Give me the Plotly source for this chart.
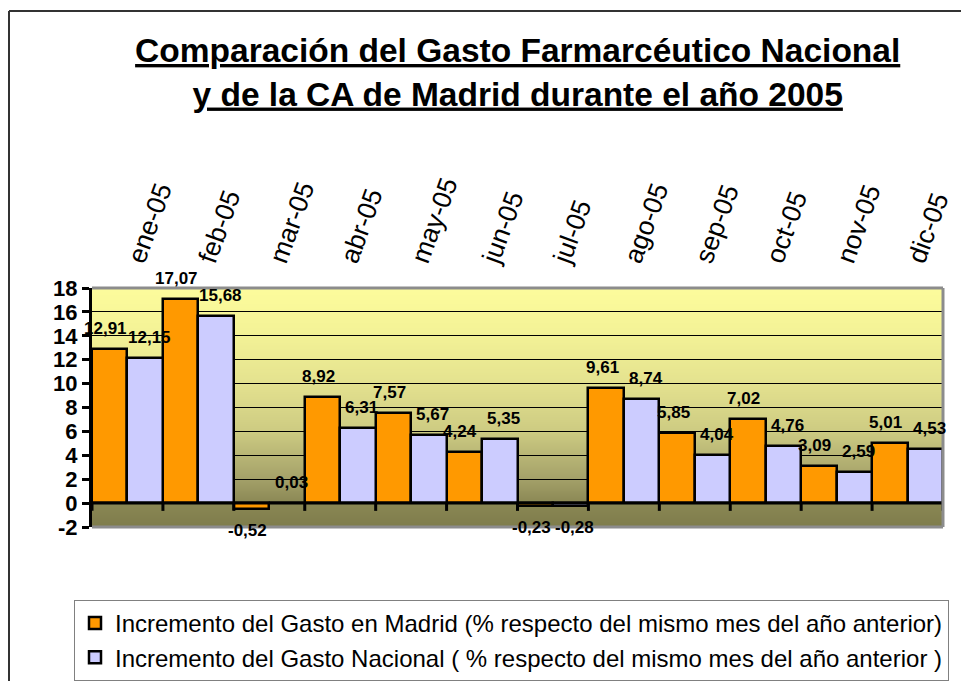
import base64, struct, zlib
import plotly.graph_objects as go

months = ["ene-05", "feb-05", "mar-05", "abr-05", "may-05", "jun-05",
          "jul-05", "ago-05", "sep-05", "oct-05", "nov-05", "dic-05"]
madrid = [12.91, 17.07, -0.52, 8.92, 7.57, 4.24, -0.23, 9.61, 5.85, 7.02, 3.09, 5.01]
nacional = [12.15, 15.68, 0.03, 6.31, 5.67, 5.35, -0.28, 8.74, 4.04, 4.76, 2.59, 4.53]
y_ticks = [-2, 0, 2, 4, 6, 8, 10, 12, 14, 16, 18]

name_madrid = "Incremento del Gasto en Madrid (% respecto del mismo mes del año anterior)"
name_nacional = "Incremento del Gasto Nacional ( % respecto del mismo mes del año anterior )"
title_text = "Comparación del Gasto Farmarcéutico Nacional<br>y de la CA de Madrid durante el año 2005"

FONT = "Arial, Liberation Sans, sans-serif"
YMIN, YMAX = y_ticks[0], y_ticks[-1]

# ---- background gradient as a tiny PNG (1 x H) ----
stops = [(-2, (126, 124, 75)), (0, (138, 135, 84)), (2, (164, 161, 105)),
         (6, (205, 203, 130)), (10, (228, 226, 143)), (14, (243, 242, 150)),
         (18, (253, 252, 156))]

def color_at(v):
    for (a, ca), (b, cb) in zip(stops[:-1], stops[1:]):
        if a <= v <= b:
            t = (v - a) / (b - a)
            return tuple(int(round(ca[k] + (cb[k] - ca[k]) * t)) for k in range(3))
    return stops[-1][1] if v > stops[-1][0] else stops[0][1]

H = 240
rows = b"".join(b"\x00" + bytes(color_at(YMAX - (i + 0.5) * (YMAX - YMIN) / H)) for i in range(H))

def chunk(tag, data):
    c = struct.pack(">I", len(data)) + tag + data
    return c + struct.pack(">I", zlib.crc32(tag + data) & 0xffffffff)

png = (b"\x89PNG\r\n\x1a\n" + chunk(b"IHDR", struct.pack(">IIBBBBB", 1, H, 8, 2, 0, 0, 0))
       + chunk(b"IDAT", zlib.compress(rows)) + chunk(b"IEND", b""))
bg_uri = "data:image/png;base64," + base64.b64encode(png).decode()

def fmt(v):
    return f"{v:.2f}".replace(".", ",")

x_idx = list(range(len(months)))

fig = go.Figure()
fig.add_trace(go.Bar(
    x=x_idx, y=madrid, name=name_madrid,
    marker=dict(color="#FF9900", line=dict(color="black", width=2.5)),
))
fig.add_trace(go.Bar(
    x=x_idx, y=nacional, name=name_nacional,
    marker=dict(color="#CCCCFF", line=dict(color="black", width=2.5)),
))

# data labels (bars of a pair sit at -0.25 / +0.25 of the category centre)
annotations = []
for series, off, xs in ((madrid, -0.25, -4), (nacional, 0.25, 4)):
    for i, v in enumerate(series):
        annotations.append(dict(
            x=i + off, y=v, xref="x", yref="y", text=fmt(v), showarrow=False,
            xanchor="center", yanchor="bottom" if v >= 0 else "top",
            xshift=xs, yshift=9 if v >= 0 else -10,
            font=dict(family=FONT, size=17, color="black", weight="bold")))

OFF = 8  # page body margin in the screenshot
L, R, T, B = 84, 34, 280, 162
W, HH = 969, 681
pw, ph = W - L - R, HH - T - B

def px_x(p):
    return (p - OFF - L) / pw

def px_y(p):
    return (HH - B - (p - OFF)) / ph

shapes = []
# zero line
shapes.append(dict(type="line", xref="paper", yref="y", x0=0, x1=1, y0=0, y1=0,
                   line=dict(color="black", width=3), layer="above"))
# category boundary ticks along the zero line
for i in range(len(months) + 1):
    shapes.append(dict(type="line", xref="x", yref="y", x0=i - 0.5, x1=i - 0.5, y0=0, y1=-0.65,
                       line=dict(color="black", width=3), layer="above"))
# plot-area border (top, right, bottom)
for (x0, y0, x1, y1) in [(0, 1, 1, 1), (1, 0, 1, 1), (0, 0, 1, 0)]:
    shapes.append(dict(type="line", xref="paper", yref="paper", x0=x0, y0=y0, x1=x1, y1=y1,
                       line=dict(color="#8C8C8C", width=3), layer="above"))
# outer chart border (left and top edges; right/bottom run off the picture)
shapes.append(dict(type="line", xref="paper", yref="paper",
                   x0=px_x(9), x1=px_x(9), y0=px_y(720), y1=px_y(11),
                   line=dict(color="#333333", width=2), layer="above"))
shapes.append(dict(type="line", xref="paper", yref="paper",
                   x0=px_x(9), x1=px_x(1000), y0=px_y(11), y1=px_y(11),
                   line=dict(color="#333333", width=2), layer="above"))

fig.update_layout(
    width=W, height=HH,
    margin=dict(l=L, r=R, t=T, b=B, autoexpand=False),
    paper_bgcolor="white", plot_bgcolor="rgba(0,0,0,0)",
    barmode="group", bargap=0, bargroupgap=0,
    font=dict(family=FONT, color="black"),
    title=dict(text=title_text, xref="container", yref="container",
               x=0.526, xanchor="center", y=1 - 54 / HH, yanchor="top", automargin=False,
               font=dict(family=FONT, size=33.5, color="black", weight="bold", lineposition="under")),
    xaxis=dict(range=[-0.5, len(months) - 0.5], tickvals=[i + 0.06 for i in x_idx], ticktext=months,
               side="top", tickangle=-70, ticks="", showgrid=False, showline=False,
               zeroline=False, ticklabelstandoff=8, automargin=False,
               tickfont=dict(family=FONT, size=26.5, color="black")),
    yaxis=dict(range=[YMIN, YMAX], tickvals=y_ticks, ticktext=[str(v) for v in y_ticks],
               showgrid=True, gridcolor="black", gridwidth=1, zeroline=False,
               showline=True, linecolor="black", linewidth=3, automargin=False,
               ticks="outside", ticklen=7, tickwidth=3, tickcolor="black",
               tickfont=dict(family=FONT, size=22, color="black", weight="bold")),
    legend=dict(x=px_x(74), xanchor="left", y=px_y(600), yanchor="top",
                bgcolor="white", bordercolor="#808080", borderwidth=1,
                font=dict(family=FONT, size=24, color="black"),
                tracegroupgap=0, traceorder="normal"),
    shapes=shapes,
    annotations=annotations,
    images=[dict(source=bg_uri, xref="x", yref="y", x=-0.5, y=YMAX,
                 sizex=len(months), sizey=YMAX - YMIN, sizing="stretch",
                 xanchor="left", yanchor="top", layer="below")],
    showlegend=True,
)

fig.write_html("out.html")
